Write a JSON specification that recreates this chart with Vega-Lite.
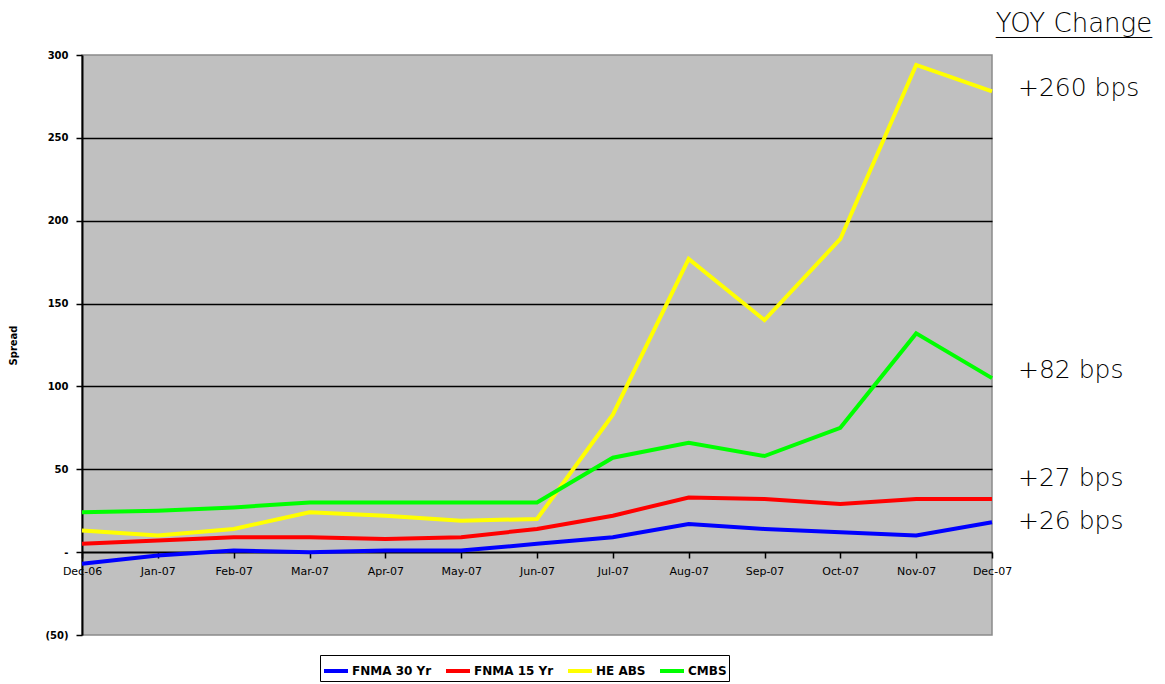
{
  "$schema": "https://vega.github.io/schema/vega-lite/v6.json",
  "width": 910,
  "height": 580,
  "autosize": {"type": "none"},
  "padding": {"left": 82, "top": 55, "right": 173, "bottom": 49},
  "background": "white",
  "config": {
    "view": {"fill": "#c0c0c0", "stroke": "#8a8a8a", "strokeWidth": 1.5},
    "font": "DejaVu Sans"
  },
  "layer": [
    {
      "data": {
        "values": [
          {"month": "Dec-06", "series": "FNMA 30 Yr", "value": -7},
          {"month": "Jan-07", "series": "FNMA 30 Yr", "value": -2},
          {"month": "Feb-07", "series": "FNMA 30 Yr", "value": 1},
          {"month": "Mar-07", "series": "FNMA 30 Yr", "value": 0},
          {"month": "Apr-07", "series": "FNMA 30 Yr", "value": 1},
          {"month": "May-07", "series": "FNMA 30 Yr", "value": 1},
          {"month": "Jun-07", "series": "FNMA 30 Yr", "value": 5},
          {"month": "Jul-07", "series": "FNMA 30 Yr", "value": 9},
          {"month": "Aug-07", "series": "FNMA 30 Yr", "value": 17},
          {"month": "Sep-07", "series": "FNMA 30 Yr", "value": 14},
          {"month": "Oct-07", "series": "FNMA 30 Yr", "value": 12},
          {"month": "Nov-07", "series": "FNMA 30 Yr", "value": 10},
          {"month": "Dec-07", "series": "FNMA 30 Yr", "value": 18},
          {"month": "Dec-06", "series": "FNMA 15 Yr", "value": 5},
          {"month": "Jan-07", "series": "FNMA 15 Yr", "value": 7},
          {"month": "Feb-07", "series": "FNMA 15 Yr", "value": 9},
          {"month": "Mar-07", "series": "FNMA 15 Yr", "value": 9},
          {"month": "Apr-07", "series": "FNMA 15 Yr", "value": 8},
          {"month": "May-07", "series": "FNMA 15 Yr", "value": 9},
          {"month": "Jun-07", "series": "FNMA 15 Yr", "value": 14},
          {"month": "Jul-07", "series": "FNMA 15 Yr", "value": 22},
          {"month": "Aug-07", "series": "FNMA 15 Yr", "value": 33},
          {"month": "Sep-07", "series": "FNMA 15 Yr", "value": 32},
          {"month": "Oct-07", "series": "FNMA 15 Yr", "value": 29},
          {"month": "Nov-07", "series": "FNMA 15 Yr", "value": 32},
          {"month": "Dec-07", "series": "FNMA 15 Yr", "value": 32},
          {"month": "Dec-06", "series": "HE ABS", "value": 13},
          {"month": "Jan-07", "series": "HE ABS", "value": 10},
          {"month": "Feb-07", "series": "HE ABS", "value": 14},
          {"month": "Mar-07", "series": "HE ABS", "value": 24},
          {"month": "Apr-07", "series": "HE ABS", "value": 22},
          {"month": "May-07", "series": "HE ABS", "value": 19},
          {"month": "Jun-07", "series": "HE ABS", "value": 20},
          {"month": "Jul-07", "series": "HE ABS", "value": 83},
          {"month": "Aug-07", "series": "HE ABS", "value": 177},
          {"month": "Sep-07", "series": "HE ABS", "value": 140},
          {"month": "Oct-07", "series": "HE ABS", "value": 189},
          {"month": "Nov-07", "series": "HE ABS", "value": 294},
          {"month": "Dec-07", "series": "HE ABS", "value": 278},
          {"month": "Dec-06", "series": "CMBS", "value": 24},
          {"month": "Jan-07", "series": "CMBS", "value": 25},
          {"month": "Feb-07", "series": "CMBS", "value": 27},
          {"month": "Mar-07", "series": "CMBS", "value": 30},
          {"month": "Apr-07", "series": "CMBS", "value": 30},
          {"month": "May-07", "series": "CMBS", "value": 30},
          {"month": "Jun-07", "series": "CMBS", "value": 30},
          {"month": "Jul-07", "series": "CMBS", "value": 57},
          {"month": "Aug-07", "series": "CMBS", "value": 66},
          {"month": "Sep-07", "series": "CMBS", "value": 58},
          {"month": "Oct-07", "series": "CMBS", "value": 75},
          {"month": "Nov-07", "series": "CMBS", "value": 132},
          {"month": "Dec-07", "series": "CMBS", "value": 105}
        ]
      },
      "mark": {"type": "line", "strokeWidth": 4, "strokeJoin": "miter"},
      "encoding": {
        "x": {
          "field": "month",
          "type": "ordinal",
          "scale": {
            "type": "point",
            "padding": 0,
            "domain": ["Dec-06", "Jan-07", "Feb-07", "Mar-07", "Apr-07", "May-07", "Jun-07", "Jul-07", "Aug-07", "Sep-07", "Oct-07", "Nov-07", "Dec-07"]
          },
          "axis": {
            "title": null,
            "orient": "bottom",
            "offset": -83,
            "domainColor": "black",
            "domainWidth": 2,
            "tickColor": "black",
            "tickSize": 6,
            "tickWidth": 1.5,
            "labelAngle": 0,
            "labelFont": "DejaVu Sans",
            "labelFontSize": 11,
            "labelColor": "black",
            "labelPadding": 7,
            "grid": false
          }
        },
        "y": {
          "field": "value",
          "type": "quantitative",
          "scale": {"domain": [-50, 300], "nice": false, "zero": false},
          "axis": {
            "title": "Spread",
            "titleFont": "DejaVu Sans",
            "titleFontSize": 10,
            "titleFontWeight": "bold",
            "titlePadding": 26,
            "titleColor": "black",
            "values": [-50, 0, 50, 100, 150, 200, 250, 300],
            "labelExpr": "datum.value === 0 ? '-' : (datum.value < 0 ? '(' + (-datum.value) + ')' : datum.label)",
            "labelFont": "DejaVu Sans",
            "labelFontSize": 10,
            "labelFontWeight": "bold",
            "labelColor": "black",
            "labelPadding": 8,
            "tickColor": "black",
            "tickSize": 6,
            "tickWidth": 1.5,
            "domainColor": "black",
            "domainWidth": 2,
            "grid": true,
            "gridColor": {
              "condition": {"test": "datum.value === 300 || datum.value === -50 || datum.value === 0", "value": "transparent"},
              "value": "black"
            },
            "gridWidth": 1.3
          }
        },
        "color": {
          "field": "series",
          "type": "nominal",
          "scale": {
            "domain": ["FNMA 30 Yr", "FNMA 15 Yr", "HE ABS", "CMBS"],
            "range": ["#0000ff", "#ff0000", "#ffff00", "#00ff00"]
          },
          "legend": {
            "title": null,
            "orient": "none",
            "legendX": 238,
            "legendY": 600,
            "direction": "horizontal",
            "strokeColor": "black",
            "fillColor": "white",
            "padding": 2,
            "symbolType": "stroke",
            "symbolSize": 576,
            "symbolStrokeWidth": 4,
            "labelFont": "DejaVu Sans",
            "labelFontSize": 12,
            "labelFontWeight": "bold",
            "labelColor": "black",
            "labelOffset": 2,
            "columnPadding": 6
          }
        }
      }
    },
    {
      "data": {
        "values": [
          {"month": "Dec-07", "label": "+260 bps", "pos": 280},
          {"month": "Dec-07", "label": "+82 bps", "pos": 110},
          {"month": "Dec-07", "label": "+27 bps", "pos": 45},
          {"month": "Dec-07", "label": "+26 bps", "pos": 19}
        ]
      },
      "mark": {"type": "text", "align": "left", "baseline": "middle", "dx": 26, "fontSize": 25, "font": "DejaVu Sans", "fontWeight": 200, "color": "black"},
      "encoding": {
        "x": {"field": "month", "type": "ordinal"},
        "y": {"field": "pos", "type": "quantitative"},
        "text": {"field": "label"}
      }
    },
    {
      "data": {
        "values": [
          {"month": "Dec-07", "label": "YOY Change", "pos": 314},
          {"month": "Dec-07", "label": "____________", "pos": 314}
        ]
      },
      "mark": {"type": "text", "align": "center", "baseline": "alphabetic", "dx": 82, "fontSize": 26, "font": "DejaVu Sans", "fontWeight": 200, "color": "black"},
      "encoding": {
        "x": {"field": "month", "type": "ordinal"},
        "y": {"field": "pos", "type": "quantitative"},
        "text": {"field": "label"}
      }
    }
  ]
}
